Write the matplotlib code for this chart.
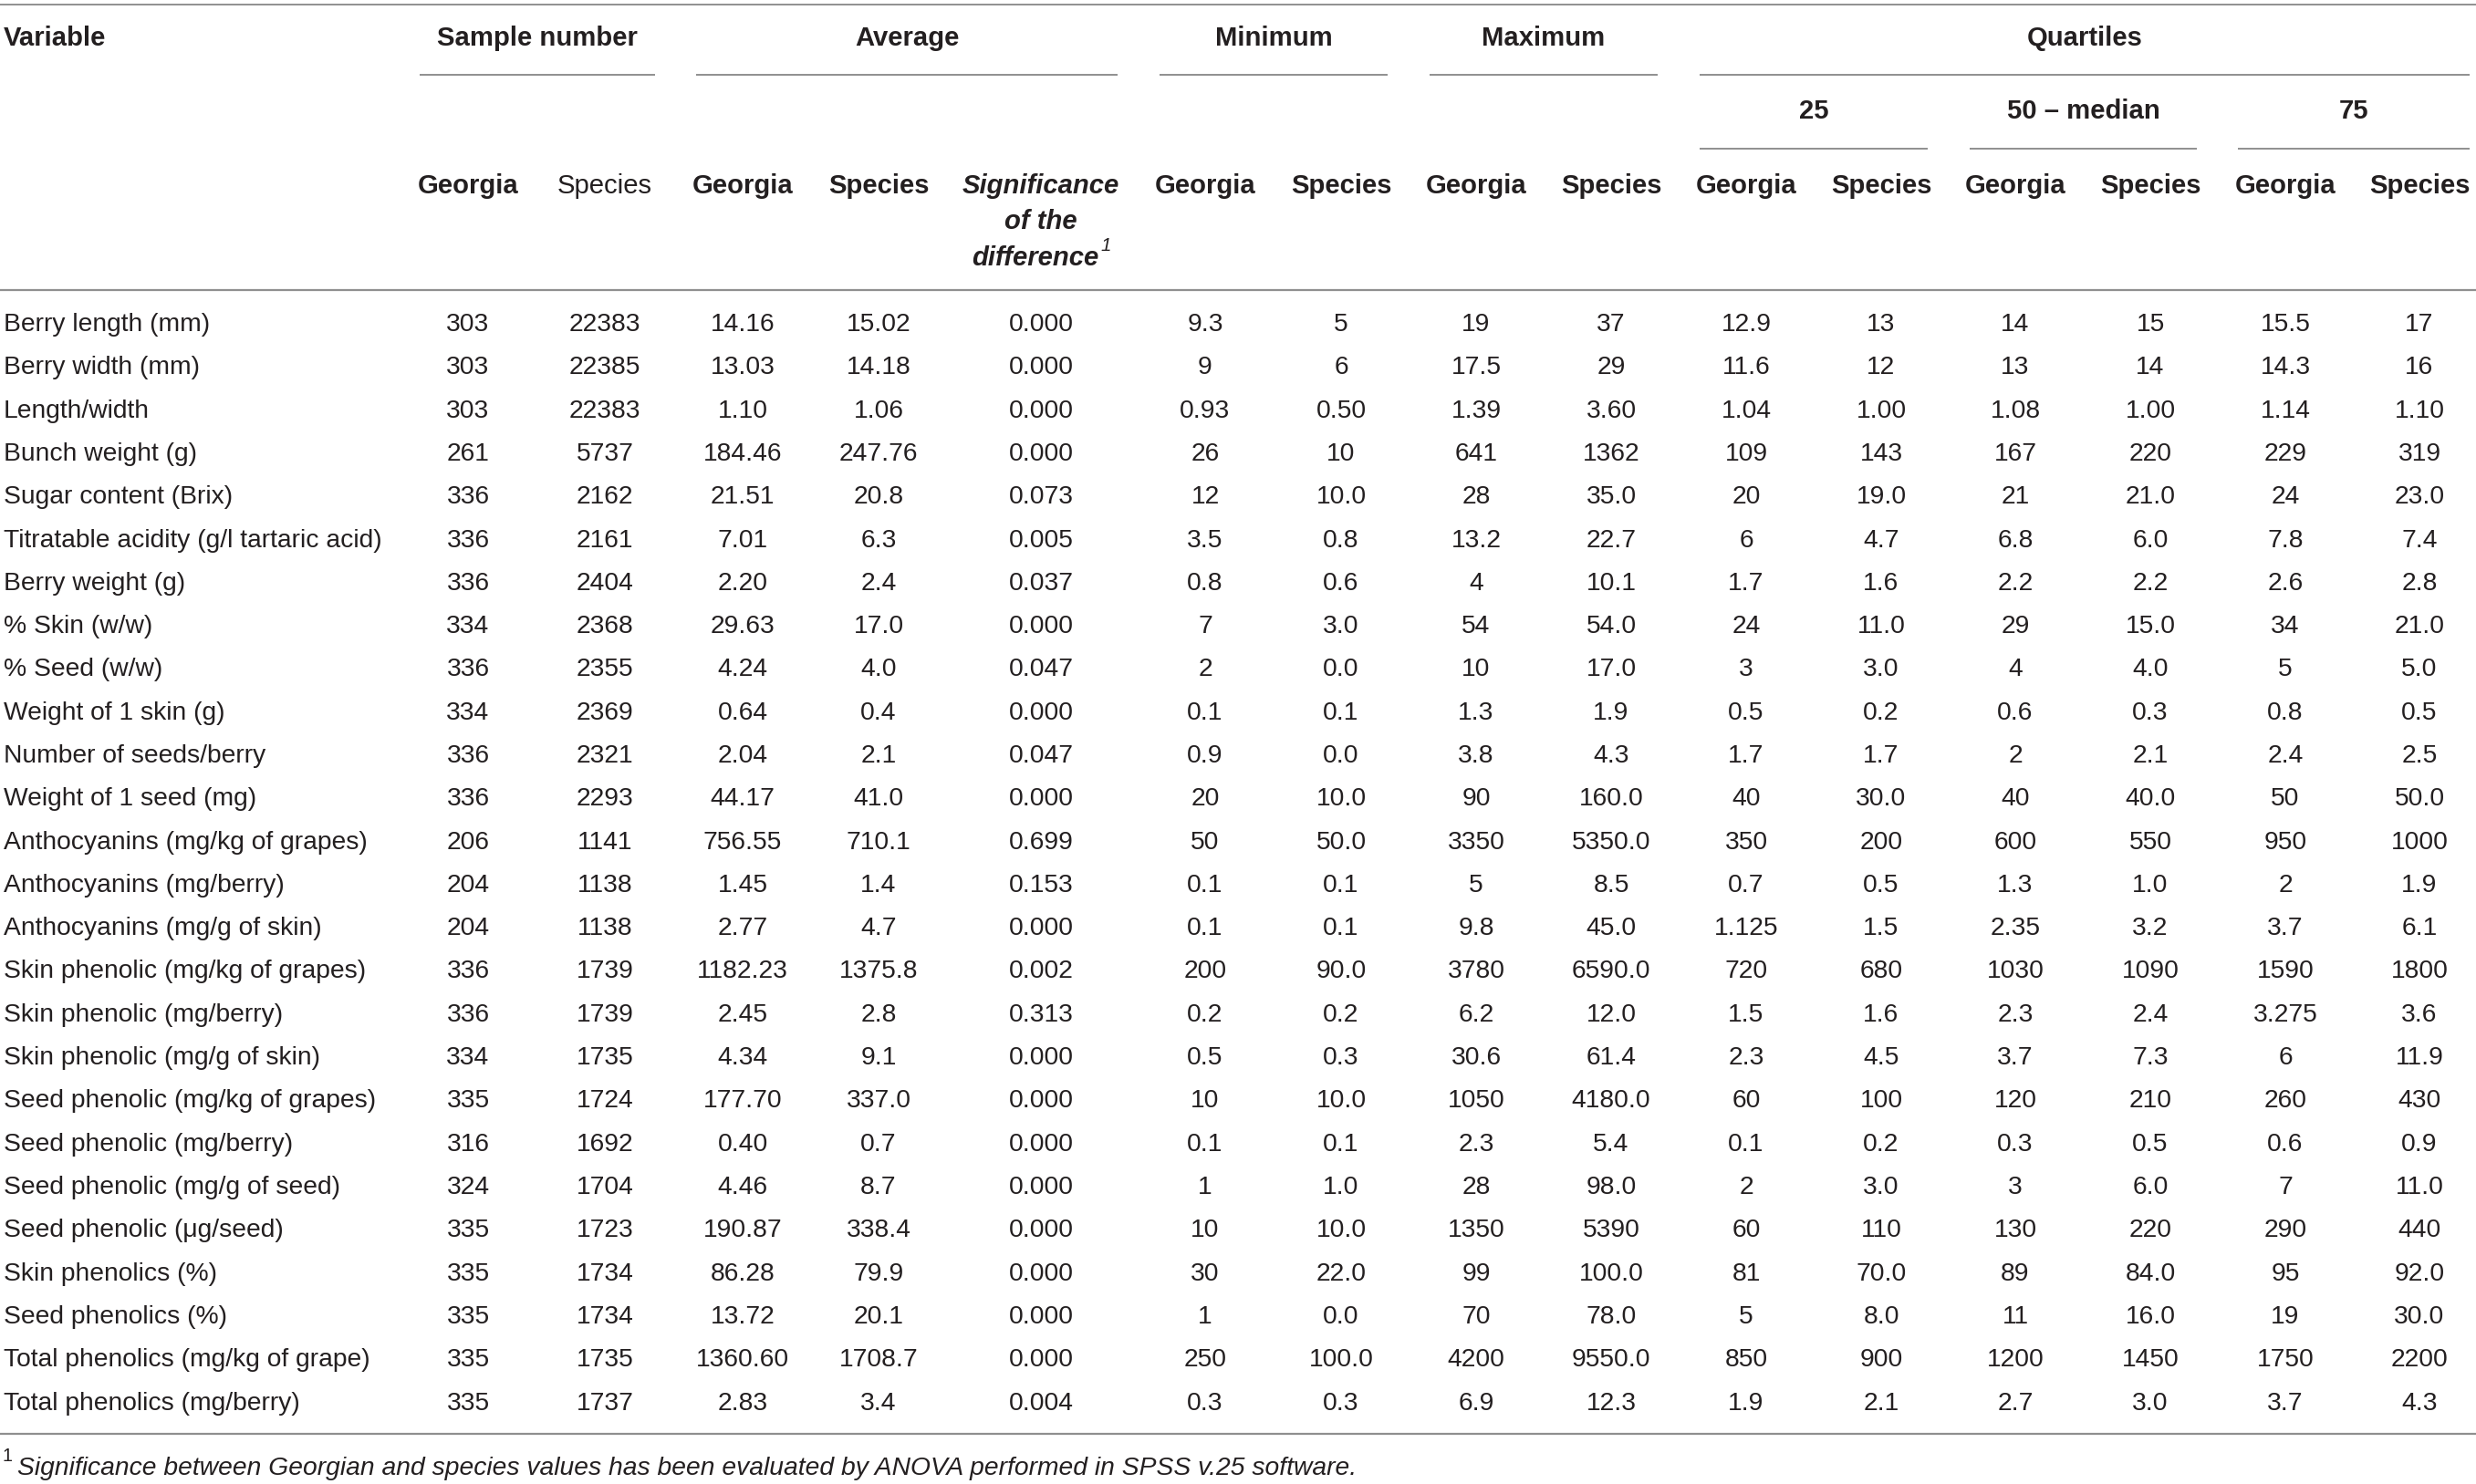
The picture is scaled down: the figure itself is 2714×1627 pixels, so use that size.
import matplotlib
matplotlib.use("Agg")
import matplotlib.pyplot as plt

plt.rcParams["font.family"] = ["Liberation Sans", "DejaVu Sans"]

variables = [
    "Berry length (mm)", "Berry width (mm)", "Length/width", "Bunch weight (g)",
    "Sugar content (Brix)", "Titratable acidity (g/l tartaric acid)", "Berry weight (g)",
    "% Skin (w/w)", "% Seed (w/w)", "Weight of 1 skin (g)", "Number of seeds/berry",
    "Weight of 1 seed (mg)", "Anthocyanins (mg/kg of grapes)", "Anthocyanins (mg/berry)",
    "Anthocyanins (mg/g of skin)", "Skin phenolic (mg/kg of grapes)", "Skin phenolic (mg/berry)",
    "Skin phenolic (mg/g of skin)", "Seed phenolic (mg/kg of grapes)", "Seed phenolic (mg/berry)",
    "Seed phenolic (mg/g of seed)", "Seed phenolic (\u03bcg/seed)", "Skin phenolics (%)",
    "Seed phenolics (%)", "Total phenolics (mg/kg of grape)", "Total phenolics (mg/berry)",
]
n_georgia = "303 303 303 261 336 336 336 334 336 334 336 336 206 204 204 336 336 334 335 316 324 335 335 335 335 335".split()
n_species = "22383 22385 22383 5737 2162 2161 2404 2368 2355 2369 2321 2293 1141 1138 1138 1739 1739 1735 1724 1692 1704 1723 1734 1734 1735 1737".split()
avg_georgia = "14.16 13.03 1.10 184.46 21.51 7.01 2.20 29.63 4.24 0.64 2.04 44.17 756.55 1.45 2.77 1182.23 2.45 4.34 177.70 0.40 4.46 190.87 86.28 13.72 1360.60 2.83".split()
avg_species = "15.02 14.18 1.06 247.76 20.8 6.3 2.4 17.0 4.0 0.4 2.1 41.0 710.1 1.4 4.7 1375.8 2.8 9.1 337.0 0.7 8.7 338.4 79.9 20.1 1708.7 3.4".split()
significance = "0.000 0.000 0.000 0.000 0.073 0.005 0.037 0.000 0.047 0.000 0.047 0.000 0.699 0.153 0.000 0.002 0.313 0.000 0.000 0.000 0.000 0.000 0.000 0.000 0.000 0.004".split()
min_georgia = "9.3 9 0.93 26 12 3.5 0.8 7 2 0.1 0.9 20 50 0.1 0.1 200 0.2 0.5 10 0.1 1 10 30 1 250 0.3".split()
min_species = "5 6 0.50 10 10.0 0.8 0.6 3.0 0.0 0.1 0.0 10.0 50.0 0.1 0.1 90.0 0.2 0.3 10.0 0.1 1.0 10.0 22.0 0.0 100.0 0.3".split()
max_georgia = "19 17.5 1.39 641 28 13.2 4 54 10 1.3 3.8 90 3350 5 9.8 3780 6.2 30.6 1050 2.3 28 1350 99 70 4200 6.9".split()
max_species = "37 29 3.60 1362 35.0 22.7 10.1 54.0 17.0 1.9 4.3 160.0 5350.0 8.5 45.0 6590.0 12.0 61.4 4180.0 5.4 98.0 5390 100.0 78.0 9550.0 12.3".split()
q25_georgia = "12.9 11.6 1.04 109 20 6 1.7 24 3 0.5 1.7 40 350 0.7 1.125 720 1.5 2.3 60 0.1 2 60 81 5 850 1.9".split()
q25_species = "13 12 1.00 143 19.0 4.7 1.6 11.0 3.0 0.2 1.7 30.0 200 0.5 1.5 680 1.6 4.5 100 0.2 3.0 110 70.0 8.0 900 2.1".split()
q50_georgia = "14 13 1.08 167 21 6.8 2.2 29 4 0.6 2 40 600 1.3 2.35 1030 2.3 3.7 120 0.3 3 130 89 11 1200 2.7".split()
q50_species = "15 14 1.00 220 21.0 6.0 2.2 15.0 4.0 0.3 2.1 40.0 550 1.0 3.2 1090 2.4 7.3 210 0.5 6.0 220 84.0 16.0 1450 3.0".split()
q75_georgia = "15.5 14.3 1.14 229 24 7.8 2.6 34 5 0.8 2.4 50 950 2 3.7 1590 3.275 6 260 0.6 7 290 95 19 1750 3.7".split()
q75_species = "17 16 1.10 319 23.0 7.4 2.8 21.0 5.0 0.5 2.5 50.0 1000 1.9 6.1 1800 3.6 11.9 430 0.9 11.0 440 92.0 30.0 2200 4.3".split()

columns = [n_georgia, n_species, avg_georgia, avg_species, significance,
           min_georgia, min_species, max_georgia, max_species,
           q25_georgia, q25_species, q50_georgia, q50_species, q75_georgia, q75_species]
col_heads = ["Georgia", "Species", "Georgia", "Species", None,
             "Georgia", "Species", "Georgia", "Species",
             "Georgia", "Species", "Georgia", "Species", "Georgia", "Species"]
footnote = "Significance between Georgian and species values has been evaluated by ANOVA performed in SPSS v.25 software."

# layout (pixels)
W, H = 2714, 1627
col_x = [513, 663, 814, 963, 1141, 1321, 1470, 1618, 1766, 1914, 2062, 2209, 2357, 2505, 2652]
row0, row_step = 356, 47.3
FS = 20.3     # body
HFS = 21.1    # header
TXT = "#231f20"
RULE = "#8f8f8f"

fig = plt.figure(figsize=(W / 100, H / 100), dpi=100)
ax = fig.add_axes([0, 0, 1, 1])
ax.set_xlim(0, W)
ax.set_ylim(H, 0)
ax.axis("off")


def rule(x0, x1, y, lw=1.4):
    ax.plot([x0, x1], [y, y], color=RULE, lw=lw, solid_capstyle="butt")


rule(0, W, 5)
rule(0, W, 318, lw=1.6)
rule(0, W, 1572, lw=1.6)

# spanners
ax.text(4, 42, "Variable", fontsize=HFS, weight="bold", color=TXT, va="center", ha="left")
spans = [("Sample number", 460, 718), ("Average", 763, 1225), ("Minimum", 1271, 1521),
         ("Maximum", 1567, 1817), ("Quartiles", 1863, 2707)]
for name, x0, x1 in spans:
    ax.text((x0 + x1) / 2, 42, name, fontsize=HFS, weight="bold", color=TXT, va="center", ha="center")
    rule(x0, x1, 82)
subspans = [("25", 1863, 2113), ("50 \u2013 median", 2159, 2408), ("75", 2453, 2707)]
for name, x0, x1 in subspans:
    ax.text((x0 + x1) / 2, 122, name, fontsize=HFS, weight="bold", color=TXT, va="center", ha="center")
    rule(x0, x1, 163)

for i, (x, h) in enumerate(zip(col_x, col_heads)):
    if h is None:
        continue
    ax.text(x, 204, h, fontsize=HFS, weight="normal" if i == 1 else "bold",
            color=TXT, va="center", ha="center")

ax.text(1141, 204, "Significance", fontsize=HFS, weight="bold", style="italic", color=TXT, va="center", ha="center")
ax.text(1141, 243, "of the", fontsize=HFS, weight="bold", style="italic", color=TXT, va="center", ha="center")
ax.text(1135, 283, "difference", fontsize=HFS, weight="bold", style="italic", color=TXT, va="center", ha="center")
ax.text(1206, 269, "1", fontsize=HFS * 0.7, style="italic", color=TXT, va="center", ha="left")

# body
for r, name in enumerate(variables):
    y = row0 + r * row_step
    ax.text(4, y, name, fontsize=FS, color=TXT, va="center", ha="left")
    for x, col in zip(col_x, columns):
        ax.text(x, y, col[r], fontsize=FS, color=TXT, va="center", ha="center")

ax.text(3, 1597, "1", fontsize=FS * 0.7, color=TXT, va="center", ha="left")
ax.text(19, 1610, footnote, fontsize=FS, style="italic", color=TXT, va="center", ha="left")

fig.savefig("out.png", dpi=100, facecolor="white")
plt.close(fig)
